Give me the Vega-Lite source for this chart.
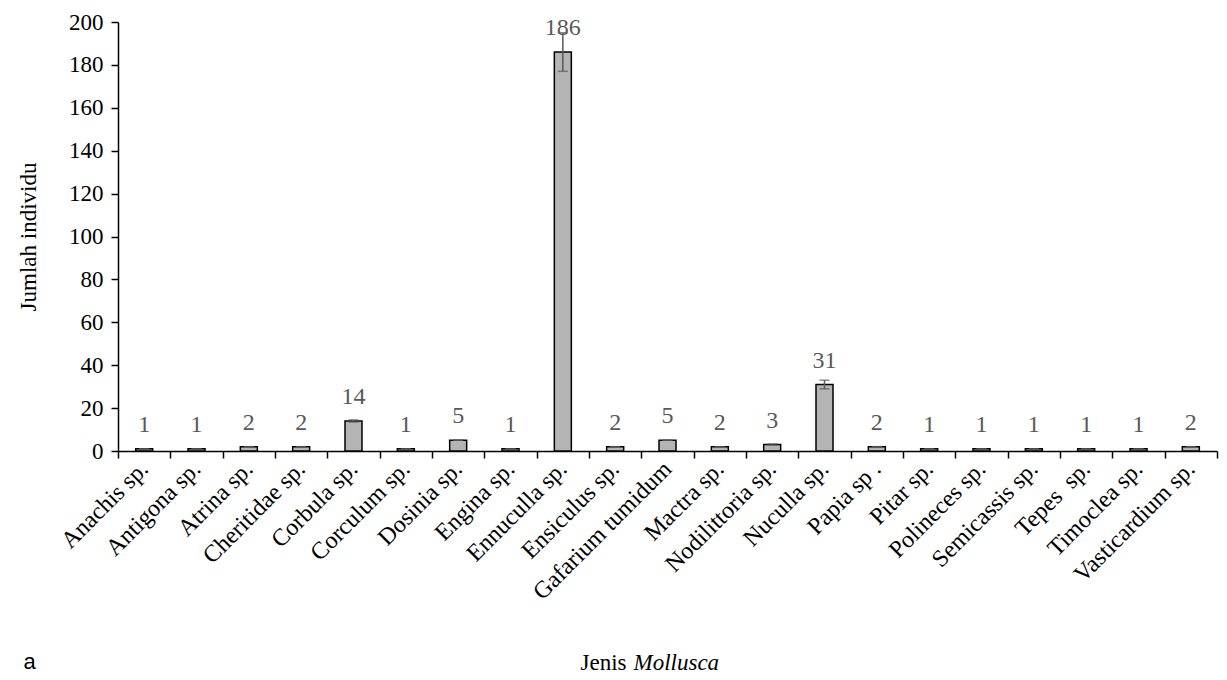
{
  "$schema": "https://vega.github.io/schema/vega-lite/v6.json",
  "width": 1099,
  "height": 429,
  "autosize": {"type": "none"},
  "padding": {"left": 118, "top": 22, "right": 10, "bottom": 229},
  "background": "white",
  "config": {
    "view": {"stroke": null},
    "font": "Liberation Serif",
    "axis": {
      "grid": false,
      "domainColor": "black",
      "tickColor": "black",
      "labelColor": "black",
      "titleColor": "black",
      "labelFont": "Liberation Serif",
      "titleFont": "Liberation Serif",
      "labelFontSize": 23,
      "titleFontSize": 23,
      "titleFontWeight": "normal",
      "domainWidth": 1.5,
      "tickWidth": 1.5
    }
  },
  "title": {
    "text": "a",
    "orient": "bottom",
    "anchor": "start",
    "frame": "bounds",
    "font": "Liberation Sans",
    "fontSize": 22,
    "fontWeight": "normal",
    "color": "black",
    "dx": 6,
    "offset": -22
  },
  "data": {
    "values": [
      {"species": "Anachis sp.", "count": 1, "err": 0},
      {"species": "Antigona sp.", "count": 1, "err": 0},
      {"species": "Atrina sp.", "count": 2, "err": 0},
      {"species": "Cheritidae sp.", "count": 2, "err": 0},
      {"species": "Corbula sp.", "count": 14, "err": 0.5},
      {"species": "Corculum sp.", "count": 1, "err": 0},
      {"species": "Dosinia sp.", "count": 5, "err": 0},
      {"species": "Engina sp.", "count": 1, "err": 0},
      {"species": "Ennuculla sp.", "count": 186, "err": 9},
      {"species": "Ensiculus sp.", "count": 2, "err": 0},
      {"species": "Gafarium tumidum", "count": 5, "err": 0},
      {"species": "Mactra sp.", "count": 2, "err": 0},
      {"species": "Nodilittoria sp.", "count": 3, "err": 0.3},
      {"species": "Nuculla sp.", "count": 31, "err": 2},
      {"species": "Papia sp .", "count": 2, "err": 0},
      {"species": "Pitar sp.", "count": 1, "err": 0},
      {"species": "Polineces sp.", "count": 1, "err": 0},
      {"species": "Semicassis sp.", "count": 1, "err": 0},
      {"species": "Tepes \u00a0sp.", "count": 1, "err": 0},
      {"species": "Timoclea sp.", "count": 1, "err": 0},
      {"species": "Vasticardium sp.", "count": 2, "err": 0}
    ]
  },
  "layer": [
    {
      "mark": {"type": "bar", "width": 17, "fill": "#b4b4b4", "stroke": "black", "strokeWidth": 1.5},
      "encoding": {
        "x": {
          "field": "species",
          "type": "nominal",
          "sort": null,
          "scale": {"paddingInner": 0, "paddingOuter": 0},
          "axis": {
            "title": "Jenis",
            "labelFont": "Liberation Serif",
            "titleFont": "Liberation Serif",
            "labelFontSize": 24,
            "labelLimit": 0,
            "labelAngle": -45,
            "labelAlign": "right",
            "labelBaseline": "middle",
            "tickBand": "extent",
            "tickSize": 7,
            "labelPadding": 7,
            "titleAnchor": "start",
            "titleAlign": "left",
            "titleBaseline": "alphabetic",
            "titleX": 462,
            "titleY": 218
          }
        },
        "y": {
          "field": "count",
          "type": "quantitative",
          "scale": {"domain": [0, 200]},
          "axis": {
            "title": "Jumlah individu",
            "labelFont": "Liberation Serif",
            "titleFont": "Liberation Serif",
            "values": [0, 20, 40, 60, 80, 100, 120, 140, 160, 180, 200],
            "tickSize": 7,
            "labelPadding": 8,
            "titlePadding": 28
          }
        }
      }
    },
    {
      "mark": {"type": "errorbar", "ticks": {"size": 10, "color": "#595959"}, "color": "#595959", "thickness": 1.5},
      "encoding": {
        "x": {"field": "species", "type": "nominal", "sort": null, "axis": null},
        "y": {"field": "count", "type": "quantitative", "title": "Jumlah individu"},
        "yError": {"field": "err"}
      }
    },
    {
      "mark": {"type": "text", "dy": -17, "baseline": "alphabetic", "fontSize": 24, "color": "#595959", "font": "Liberation Serif"},
      "encoding": {
        "x": {
          "field": "species",
          "type": "nominal",
          "sort": null,
          "axis": {
            "orient": "bottom",
            "title": "Mollusca",
            "titleFont": "Liberation Serif",
            "labels": false,
            "ticks": false,
            "domain": false,
            "titleFontStyle": "italic",
            "titleAnchor": "start",
            "titleAlign": "left",
            "titleBaseline": "alphabetic",
            "titleX": 515,
            "titleY": 218
          }
        },
        "y": {"field": "count", "type": "quantitative", "title": "Jumlah individu"},
        "text": {"field": "count"}
      }
    }
  ],
  "resolve": {"axis": {"x": "independent"}}
}
